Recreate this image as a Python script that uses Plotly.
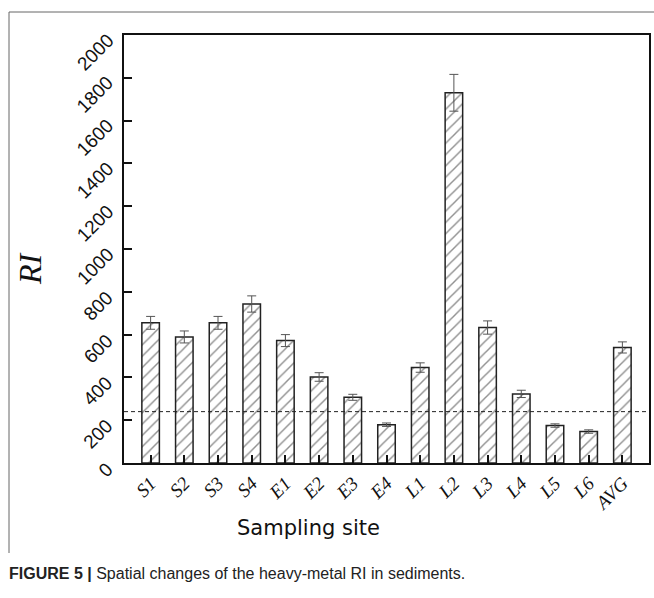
import plotly.graph_objects as go

sites = ["S1", "S2", "S3", "S4", "E1", "E2", "E3", "E4", "L1", "L2", "L3", "L4", "L5", "L6", "AVG"]
ri_values = [655, 589, 655, 743, 572, 402, 307, 179, 446, 1730, 633, 323, 175, 147, 540]
ri_errors = [30, 28, 30, 38, 28, 20, 14, 8, 22, 86, 31, 17, 8, 8, 26]
threshold = 240
y_ticks = [0, 200, 400, 600, 800, 1000, 1200, 1400, 1600, 1800, 2000]

W, H = 654, 598
L, R, T, B = 124, 5, 35, 135
pw, ph = W - L - R, H - T - B

def px(x):
    return (x - L) / pw

def py(y):
    return (H - B - y) / ph

fig = go.Figure()
fig.add_trace(go.Bar(
    x=list(range(len(sites))), y=ri_values, width=0.52,
    marker=dict(color="white", line=dict(color="#222", width=1.5),
                pattern=dict(shape="/", fgcolor="#222", bgcolor="white", size=8, solidity=0.18)),
    error_y=dict(type="data", array=ri_errors, color="#555", thickness=1, width=4.5),
    showlegend=False,
))

fig.add_shape(type="line", xref="paper", yref="y", x0=0, x1=1, y0=threshold, y1=threshold,
              line=dict(color="#222", width=1, dash="4px,3px"))

# outer frame
fig.add_shape(type="line", xref="paper", yref="paper", x0=px(9), x1=px(9), y0=py(12), y1=py(553),
              line=dict(color="#666", width=1))
fig.add_shape(type="line", xref="paper", yref="paper", x0=px(9), x1=px(660), y0=py(12), y1=py(12),
              line=dict(color="#666", width=1))

# y tick labels (rotated, anchored at their upper-right end)
for v in y_ticks:
    fig.add_annotation(xref="paper", yref="y", x=px(120), y=v, yshift=8,
                       xanchor="right", yanchor="top", text=str(v), textangle=-45,
                       showarrow=False, font=dict(family="Liberation Sans", size=19, color="#111"))

fig.add_annotation(xref="paper", yref="paper", x=px(30), y=py(269), xanchor="center", yanchor="middle",
                   text="RI", textangle=-90,
                   showarrow=False, font=dict(family="Liberation Serif", size=32, style="italic", color="#111"))
fig.add_annotation(xref="paper", yref="paper", x=px(308), y=py(528), xanchor="center", yanchor="middle",
                   text="Sampling site",
                   showarrow=False, font=dict(family="DejaVu Sans", size=21, color="#111"))
fig.add_annotation(xref="paper", yref="paper", x=px(7), y=py(573), xanchor="left", yanchor="middle",
                   text="<b>FIGURE 5 |</b> Spatial changes of the heavy-metal RI in sediments.",
                   showarrow=False, font=dict(family="Liberation Sans", size=16, color="#222"))

fig.update_xaxes(range=[-0.79, len(sites) - 1 + 0.79], tickmode="array",
                 tickvals=list(range(len(sites))), ticktext=sites, tickangle=-45,
                 ticks="inside", ticklen=8, tickwidth=1.5, tickcolor="#111",
                 showline=True, linecolor="#111", linewidth=1.5, mirror=True, showgrid=False,
                 automargin=False,
                 tickfont=dict(family="Liberation Serif", size=19, style="italic", color="#111"))
fig.update_yaxes(range=[0, 2000], tickmode="array", tickvals=y_ticks, showticklabels=False,
                 ticks="inside", ticklen=8, tickwidth=1.5, tickcolor="#111",
                 showline=True, linecolor="#111", linewidth=1.5, mirror=True, showgrid=False,
                 zeroline=False, automargin=False)

fig.update_layout(width=W, height=H, margin=dict(l=L, r=R, t=T, b=B),
                  plot_bgcolor="white", paper_bgcolor="white")
fig.write_html("out.html")
